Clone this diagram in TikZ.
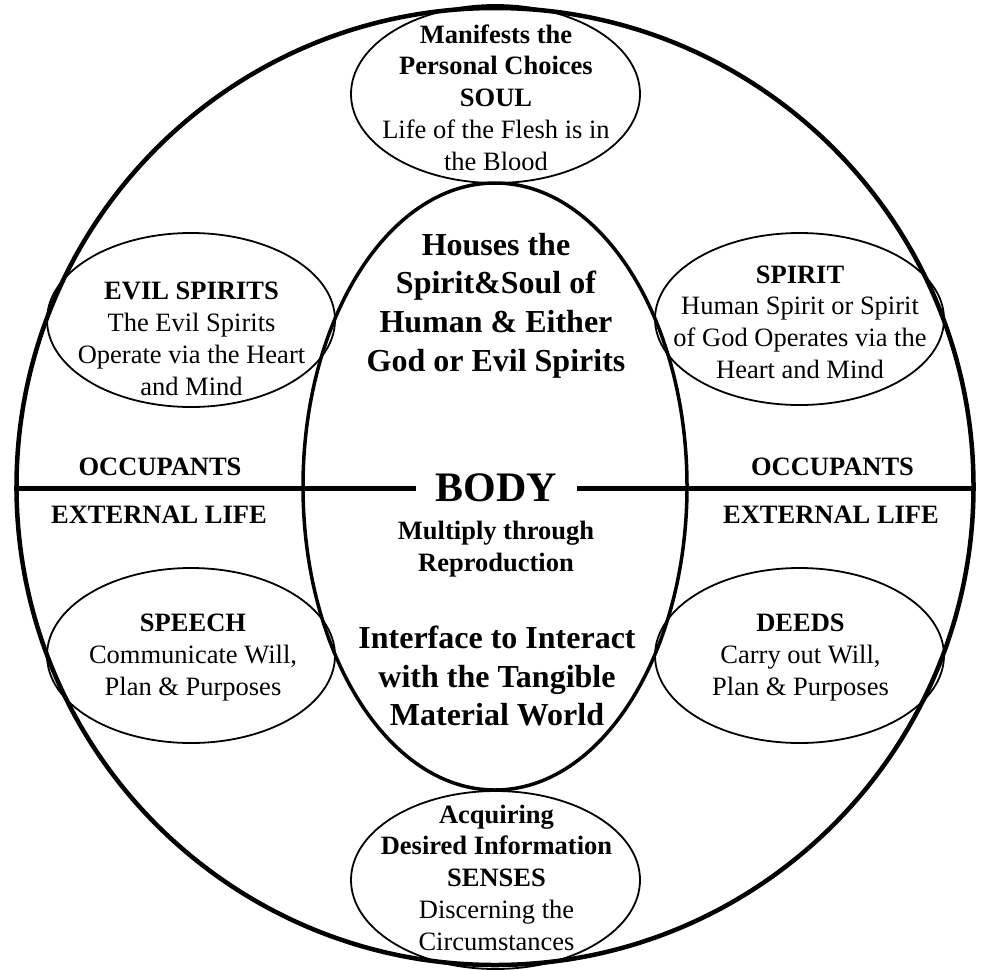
\documentclass[tikz,border=0pt]{standalone}
\usepackage{fontspec}
\setmainfont{Liberation Serif}
\usetikzlibrary{shapes.geometric}
\begin{document}
\begin{tikzpicture}[x=1pt,y=-1pt,
  oval/.style={draw, ellipse, inner sep=0pt, line width=1.8pt},
  txt/.style={align=center, inner sep=0pt, font=\fontsize{26.5}{31.7}\selectfont},
  bigtxt/.style={align=center, inner sep=0pt, font=\fontsize{32}{38.6}\selectfont\bfseries},
  lbl/.style={anchor=base, inner sep=0pt, font=\fontsize{26.5}{31.7}\selectfont\bfseries}]
\useasboundingbox (0,0) rectangle (981,969);
% shapes
\node[draw, circle, inner sep=0pt, minimum size=957pt, line width=4.5pt] (outer) at (495,486.5) {};
\node[draw, ellipse, inner sep=0pt, minimum width=384pt, minimum height=607pt, line width=3.5pt] (bodyov) at (495,486.5) {};
\node[oval, minimum width=289pt, minimum height=178pt] (soulov) at (495.5,94) {};
\node[oval, minimum width=289pt, minimum height=178pt] (sensesov) at (495.5,880) {};
\node[oval, minimum width=288pt, minimum height=174pt] (evilov) at (191,320) {};
\node[oval, minimum width=289pt, minimum height=172pt] (spiritov) at (799.5,319) {};
\node[oval, minimum width=288pt, minimum height=175pt] (speechov) at (191,655.5) {};
\node[oval, minimum width=289pt, minimum height=175pt] (deedsov) at (799.5,655.5) {};
% BODY and dividing line
\node[anchor=base, inner ysep=0pt, inner xsep=20pt, font=\fontsize{42}{48}\selectfont\bfseries] (body) at (496.5,501) {BODY};
\coordinate (mid) at (495,488);
\draw[line width=5pt] (outer.west |- mid) -- (body.west |- mid);
\draw[line width=5pt] (body.east |- mid) -- (outer.east |- mid);
% texts
\node[txt] (soultxt) at (496,100.3) {\strut\bfseries Manifests the\\\strut\bfseries Personal Choices\\\strut\bfseries SOUL\\\strut Life of the Flesh is in\\\strut the Blood};
\node[txt] (eviltxt) at (191.5,341.2) {\strut\bfseries EVIL SPIRITS\\\strut The Evil Spirits\\\strut Operate via the Heart\\\strut and Mind};
\node[txt] (spirittxt) at (800,324.5) {\strut\bfseries SPIRIT\\\strut Human Spirit or Spirit\\\strut of God Operates via the\\\strut Heart and Mind};
\node[txt] (speechtxt) at (193,657) {\strut\bfseries SPEECH\\\strut Communicate Will,\\\strut Plan \& Purposes};
\node[txt] (deedstxt) at (800.5,657) {\strut\bfseries DEEDS\\\strut Carry out Will,\\\strut Plan \& Purposes};
\node[txt] (sensestxt) at (496.5,880.3) {\strut\bfseries Acquiring\\\strut\bfseries Desired Information\\\strut\bfseries SENSES\\\strut Discerning the\\\strut Circumstances};
\node[bigtxt] (housestxt) at (496,305.5) {\strut Houses the\\\strut Spirit\&Soul of\\\strut Human \& Either\\\strut God or Evil Spirits};
\node[txt, font=\fontsize{26.5}{32.4}\selectfont\bfseries] (multtxt) at (496,549) {\strut Multiply through\\\strut Reproduction};
\node[bigtxt] (interfacetxt) at (497,679.6) {\strut Interface to Interact\\\strut with the Tangible\\\strut Material World};
% side labels
\node[lbl] (occL) at (160,475) {OCCUPANTS};
\node[lbl] (extL) at (159,523.3) {EXTERNAL LIFE};
\node[lbl] (occR) at (832.5,475) {OCCUPANTS};
\node[lbl] (extR) at (831,523.3) {EXTERNAL LIFE};
\end{tikzpicture}
\end{document}
